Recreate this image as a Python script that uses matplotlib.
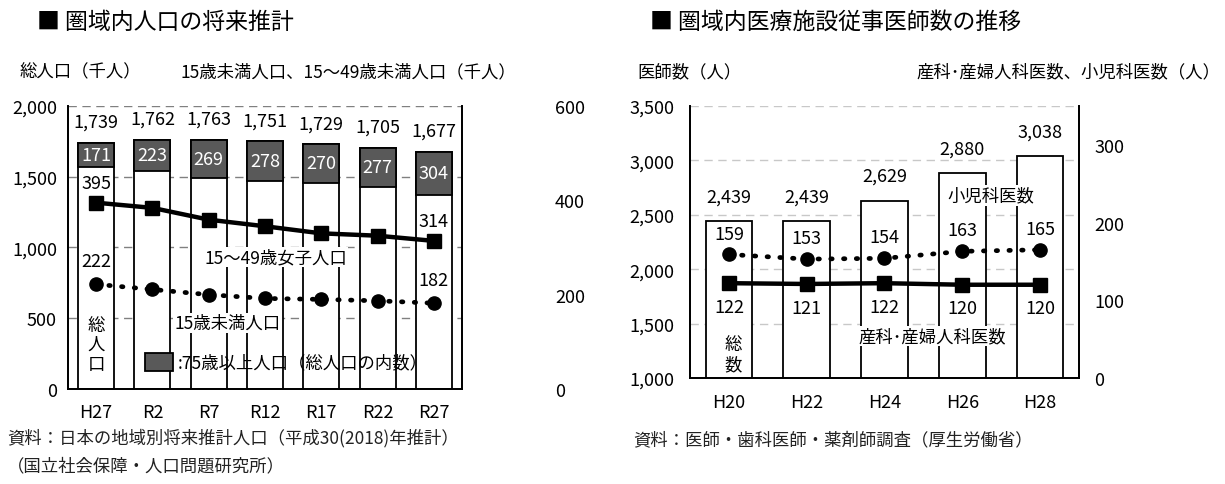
import matplotlib
matplotlib.use("Agg")
import matplotlib.pyplot as plt
from matplotlib.patches import Patch

plt.rcParams['font.family'] = ['Noto Sans CJK JP', 'DejaVu Sans']
plt.rcParams['font.size'] = 12.5

W, H = 1225, 485

# left chart: population projection (thousand people)
pop_years = ["H27", "R2", "R7", "R12", "R17", "R22", "R27"]
pop_total = [1739, 1762, 1763, 1751, 1729, 1705, 1677]
pop_75plus = [171, 223, 269, 278, 270, 277, 304]
women_15_49 = [395, 384, 359, 345, 330, 325, 314]
under_15 = [222, 211, 200, 192, 190, 187, 182]

# right chart: doctors in medical facilities
doc_years = ["H20", "H22", "H24", "H26", "H28"]
doc_total = [2439, 2439, 2629, 2880, 3038]
pediatric = [159, 153, 154, 163, 165]
obstetric = [122, 121, 122, 120, 120]

DARK = "#595959"
NUM = 13   # size of the numbers


def box(l, t, r, b):
    return [l / W, 1 - b / H, (r - l) / W, (b - t) / H]


def ftext(px, py, s, **kw):
    fig.text(px / W, 1 - py / H, s, va="center", **kw)


def style(ax, ax2, grid_color):
    ax.set_axisbelow(True)
    ax.yaxis.grid(True, linestyle=(0, (6, 4)), color=grid_color, lw=1)
    for a in (ax, ax2):
        a.spines["top"].set_visible(False)
        for s in ("left", "right", "bottom"):
            a.spines[s].set_linewidth(1.3)
        a.tick_params(length=0, labelsize=NUM)


fig = plt.figure(figsize=(W / 100, H / 100), dpi=100)

# ---------------- left chart ----------------
ax = fig.add_axes(box(68, 107, 462, 390))
ax2 = ax.twinx()
x = list(range(len(pop_years)))
ax.bar(x, pop_total, width=0.64, color="white", edgecolor="black", lw=1.3)
bottoms = [t - o for t, o in zip(pop_total, pop_75plus)]
ax.bar(x, pop_75plus, bottom=bottoms, width=0.64, color=DARK,
       edgecolor="black", lw=1.3)
ax.set_xlim(-0.5, len(x) - 0.5)
ax.set_ylim(0, 2000)
ax.set_yticks([0, 500, 1000, 1500, 2000])
ax.set_yticklabels([f"{v:,}" for v in [0, 500, 1000, 1500, 2000]])
ax.set_xticks(x)
ax.set_xticklabels(pop_years)
ax2.set_ylim(0, 600)
ax2.set_yticks([0, 200, 400, 600])
style(ax, ax2, "#808080")
ax.tick_params(axis="y", pad=8)
ax.tick_params(axis="x", pad=10)
ax2.tick_params(axis="y", pad=67)

ax2.plot(x, women_15_49, color="black", lw=3.2, marker="s", ms=9.5)
ax2.plot(x, under_15, color="black", lw=3.4, linestyle=(0, (0.3, 2.4)),
         dash_capstyle="round", marker="o", ms=9.5)

for i, (t, o, b) in enumerate(zip(pop_total, pop_75plus, bottoms)):
    ax2.annotate(f"{t:,}", (i, t * 0.3), xytext=(0, 15),
                 textcoords="offset points", ha="center", va="center",
                 fontsize=NUM)
    ax2.text(i, (b + o / 2) * 0.3, str(o), color="white",
             ha="center", va="center", fontsize=NUM)

for i in (0, 6):
    ax2.annotate(str(women_15_49[i]), (i, women_15_49[i]), xytext=(0, 14),
                 textcoords="offset points", ha="center", va="center",
                 fontsize=NUM)
    ax2.annotate(str(under_15[i]), (i, under_15[i]), xytext=(0, 17),
                 textcoords="offset points", ha="center", va="center",
                 fontsize=NUM)

ax2.text(3.19, 280, "15～49歳女子人口", ha="center", va="center",
         bbox=dict(facecolor="white", edgecolor="none", pad=1))
ax2.text(2.34, 140, "15歳未満人口", ha="center", va="center",
         bbox=dict(facecolor="white", edgecolor="none", pad=1))
ax2.text(0.0, 95, "総\n人\n口", ha="center", va="center", linespacing=1.1)

ax2.legend(handles=[Patch(facecolor=DARK, edgecolor="black", lw=1.3)],
           labels=[":75歳以上人口（総人口の内数）"], loc="center left",
           bbox_to_anchor=(0.195, 0.095), frameon=False, borderpad=0,
           borderaxespad=0, handlelength=1.6, handleheight=1.2,
           handletextpad=0.3)

# ---------------- right chart ----------------
bx = fig.add_axes(box(690, 107, 1079, 379))
bx2 = bx.twinx()
x2 = list(range(len(doc_years)))
bx.bar(x2, doc_total, width=0.6, color="white", edgecolor="black", lw=1.3)
bx.set_xlim(-0.5, len(x2) - 0.5)
bx.set_ylim(1000, 3500)
ticks = [1000, 1500, 2000, 2500, 3000, 3500]
bx.set_yticks(ticks)
bx.set_yticklabels([f"{v:,}" for v in ticks])
bx.set_xticks(x2)
bx.set_xticklabels(doc_years)
bx2.set_ylim(0, 350)
bx2.set_yticks([0, 100, 200, 300])
style(bx, bx2, "#c8c8c8")
bx.tick_params(axis="y", pad=11)
bx.tick_params(axis="x", pad=11)
bx2.tick_params(axis="y", pad=11)

bx2.plot(x2, obstetric, color="black", lw=3.2, marker="s", ms=9.5)
bx2.plot(x2, pediatric, color="black", lw=3.4, linestyle=(0, (0.3, 2.4)),
         dash_capstyle="round", marker="o", ms=9.5)

for i, t in enumerate(doc_total):
    bx2.annotate(f"{t:,}", (i, (t - 1000) * 0.14), xytext=(0, 18),
                 textcoords="offset points", ha="center", va="center",
                 fontsize=NUM)
for i, v in enumerate(pediatric):
    bx2.annotate(str(v), (i, v), xytext=(0, 15), textcoords="offset points",
                 ha="center", va="center", fontsize=NUM,
                 bbox=dict(facecolor="white", edgecolor="none", pad=0.5))
for i, v in enumerate(obstetric):
    bx2.annotate(str(v), (i, v), xytext=(0, -17), textcoords="offset points",
                 ha="center", va="center", fontsize=NUM)

bx2.text(3.37, 235, "小児科医数", ha="center", va="center",
         bbox=dict(facecolor="white", edgecolor="none", pad=1))
bx2.text(2.61, 54, "産科･産婦人科医数", ha="center", va="center",
         bbox=dict(facecolor="white", edgecolor="none", pad=1))
bx2.text(0.05, 31, "総\n数", ha="center", va="center", linespacing=1.15)

# ---------------- titles and notes ----------------
ftext(37, 22, "■ 圏域内人口の将来推計", fontsize=16.5)
ftext(650, 22, "■ 圏域内医療施設従事医師数の推移", fontsize=16.5)
ftext(20, 72, "総人口（千人）")
ftext(180, 72, "15歳未満人口、15～49歳未満人口（千人）")
ftext(637, 72, "医師数（人）")
ftext(1220, 72, "産科･産婦人科医数、小児科医数（人）", ha="right")
ftext(7, 438, "資料：日本の地域別将来推計人口（平成30(2018)年推計）", color="#222222")
ftext(7, 466, "（国立社会保障・人口問題研究所）", color="#222222")
ftext(633, 440, "資料：医師・歯科医師・薬剤師調査（厚生労働省）", color="#222222")

fig.savefig("out.png", dpi=100)
